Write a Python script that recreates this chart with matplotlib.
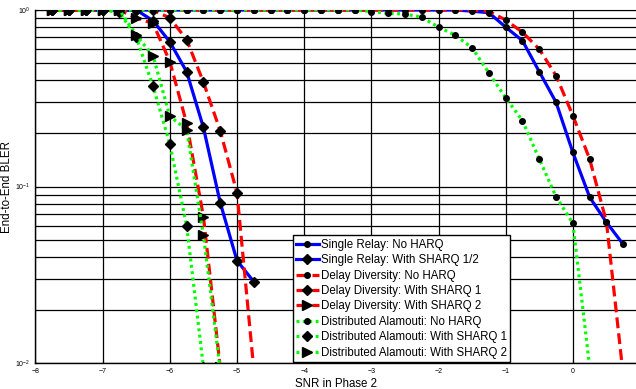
import matplotlib
matplotlib.use('Agg')
from matplotlib import pyplot as plt
from matplotlib.ticker import LogLocator, NullFormatter

# SNR grid of the no-HARQ runs (right cluster)
snr_nh = [-7.75, -7.5, -7.25, -7.0, -6.75, -6.5, -6.25, -6.0, -5.75, -5.5,
          -5.25, -5.0, -4.75, -4.5, -4.25, -4.0, -3.75, -3.5, -3.25, -3.0,
          -2.75, -2.5, -2.25, -2.0, -1.75, -1.5, -1.25, -1.0, -0.75, -0.5,
          -0.25, 0.0, 0.25, 0.5, 0.75]

sr_no_harq = [1, 1, 1, 1, 1, 1, 1, 1, 1, 1,
              1, 1, 1, 1, 1, 1, 1, 1, 1, 1,
              1, 1, 1, 1, 1, 0.985, 0.965, 0.80, 0.67, 0.447,
              0.30, 0.156, 0.087, 0.0627, 0.047]
dd_no_harq = [1, 1, 1, 1, 1, 1, 1, 1, 1, 1,
              1, 1, 1, 1, 1, 1, 1, 1, 1, 1,
              1, 1, 1, 1, 1, 1, 0.985, 0.877, 0.748, 0.60,
              0.425, 0.252, 0.143, 0.063, 0.0085]
da_no_harq = [1, 1, 1, 1, 1, 1, 1, 1, 1, 1,
              1, 1, 1, 1, 1, 1, 1, 1, 1, 0.98,
              0.958, 0.949, 0.91, 0.80, 0.72, 0.61, 0.44, 0.318, 0.236, 0.143,
              0.0875, 0.0618, 0.0095]

# left cluster (with SHARQ)
snr_sr = [-7.75, -7.5, -7.25, -7.0, -6.75, -6.5, -6.25, -6.0, -5.75, -5.5,
          -5.25, -5.0, -4.75]
sr_sharq = [1, 1, 1, 1, 1, 1, 0.87, 0.66, 0.447, 0.216, 0.081, 0.038, 0.0289]

snr_dd1 = [-7.75, -7.5, -7.25, -7.0, -6.75, -6.5, -6.25, -6.0, -5.75, -5.5,
           -5.25, -5.0, -4.75]
dd_sharq1 = [1, 1, 1, 1, 1, 1, 1, 0.90, 0.68, 0.39, 0.207, 0.092, 0.0092]

snr_dd2 = [-7.75, -7.5, -7.25, -7.0, -6.75, -6.5, -6.25, -6.0, -5.75, -5.5,
           -5.25]
dd_sharq2 = [1, 1, 1, 1, 1, 0.90, 0.84, 0.51, 0.228, 0.0675, 0.0095]

snr_da1 = [-7.75, -7.5, -7.25, -7.0, -6.75, -6.5, -6.25, -6.0, -5.75, -5.5]
da_sharq1 = [1, 1, 1, 1, 0.97, 0.70, 0.37, 0.174, 0.06, 0.0095]

snr_da2 = [-7.75, -7.5, -7.25, -7.0, -6.75, -6.5, -6.25, -6.0, -5.75, -5.5,
           -5.25]
da_sharq2 = [1, 1, 1, 1, 1, 0.72, 0.55, 0.25, 0.21, 0.053, 0.0092]

labels = ['Single Relay: No HARQ', 'Single Relay: With SHARQ 1/2',
          'Delay Diversity: No HARQ', 'Delay Diversity: With SHARQ 1',
          'Delay Diversity: With SHARQ 2', 'Distributed Alamouti: No HARQ',
          'Distributed Alamouti: With SHARQ 1', 'Distributed Alamouti: With SHARQ 2']

plt.rcParams['font.family'] = ['Liberation Sans', 'DejaVu Sans']

fig = plt.figure(figsize=(6.36, 3.89), dpi=100)
ax = fig.add_axes([0.0558, 0.0668, 0.9442, 0.9075])

BLUE = (0, 0, 1)
RED = (1, 0, 0)
GREEN = (0, 1, 0)
dash = (0, (3.4, 1.6))
dot = (0, (0.9, 1.1))

series = [
    (snr_nh, sr_no_harq, BLUE, '-', 'o', 4),
    (snr_sr, sr_sharq, BLUE, '-', 'D', 5.5),
    (snr_nh, dd_no_harq, RED, dash, 'o', 4),
    (snr_dd1, dd_sharq1, RED, dash, 'D', 5.5),
    (snr_dd2, dd_sharq2, RED, dash, '>', 7.5),
    (snr_nh[:len(da_no_harq)], da_no_harq, GREEN, dot, 'o', 4),
    (snr_da1, da_sharq1, GREEN, dot, 'D', 5.5),
    (snr_da2, da_sharq2, GREEN, dot, '>', 7.5),
]

for (x, y, col, ls, mk, ms), lab in zip(series, labels):
    ax.plot(x, y, color=col, linestyle=ls, linewidth=2.3, marker=mk,
            markersize=ms, markerfacecolor='k', markeredgecolor='k',
            label=lab, zorder=3)

ax.set_yscale('log')
ax.set_xlim(-8, 0.94)
ax.set_ylim(0.01, 1)
ax.set_xticks([-8, -7, -6, -5, -4, -3, -2, -1, 0])
ax.yaxis.set_minor_locator(LogLocator(base=10, subs=range(2, 10)))
ax.yaxis.set_minor_formatter(NullFormatter())
ax.grid(True, which='major', color='k', linewidth=0.9)
ax.grid(True, which='minor', axis='y', color='k', linewidth=0.9)
ax.set_axisbelow(True)
ax.tick_params(which='both', direction='in', labelsize=5, length=2.5)
ax.tick_params(which='minor', length=1.5)
for side in ['left', 'bottom']:
    ax.spines[side].set_linewidth(1.0)
ax.spines['right'].set_visible(False)

ax.set_xlabel('SNR in Phase 2', fontsize=8.3, labelpad=2)
ax.set_ylabel('End-to-End BLER', fontsize=8.3)
ax.yaxis.set_label_coords(-0.037, 0.5)

leg = ax.legend(loc='lower left', bbox_to_anchor=(0.428, 0.002), fontsize=8.3,
                handlelength=2.0, handletextpad=0.15, labelspacing=0.3,
                borderpad=0.3, borderaxespad=0, fancybox=False, framealpha=1,
                edgecolor='k')
leg.get_frame().set_linewidth(1.0)

fig.savefig('out.png', dpi=100)
